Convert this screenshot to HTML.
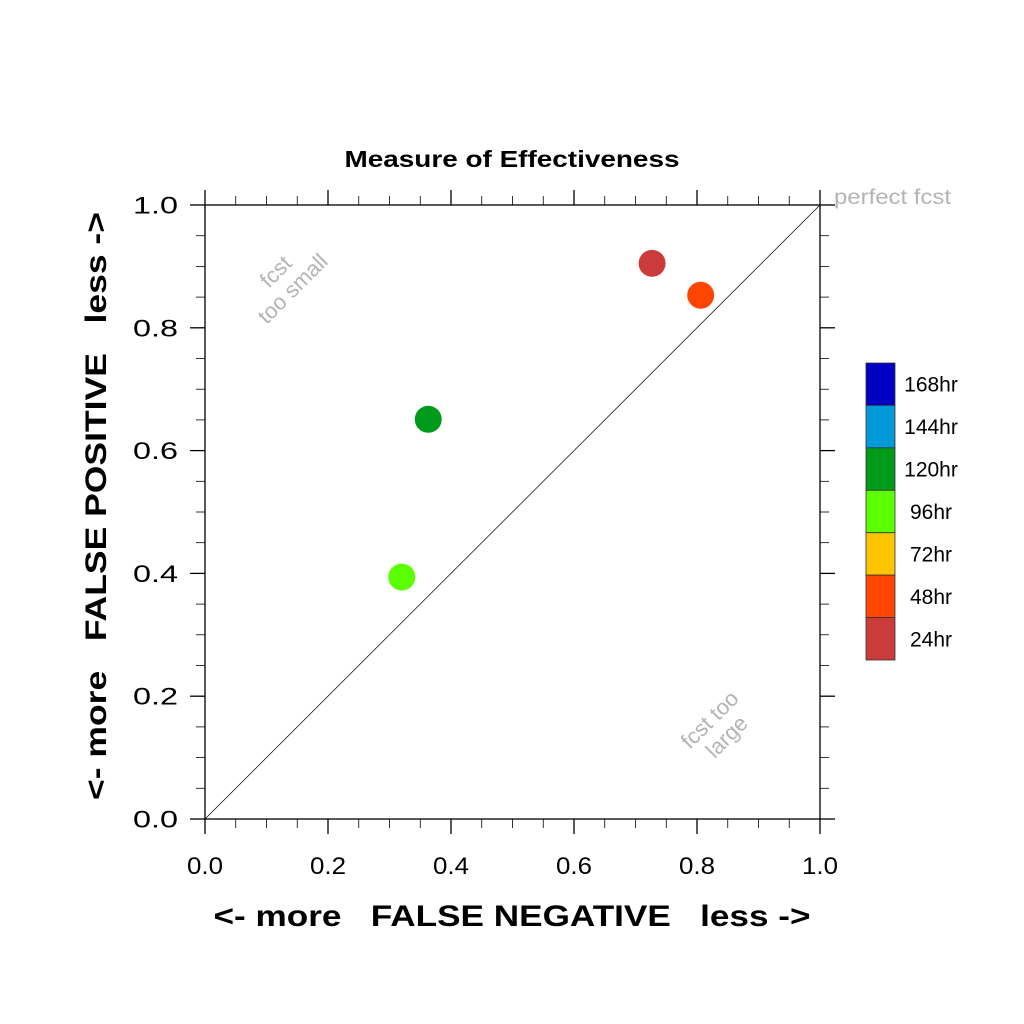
<!DOCTYPE html>
<html><head><meta charset="utf-8"><style>
body{margin:0;background:#fff}
svg{display:block;font-family:"Liberation Sans",Arial,sans-serif}
</style></head><body>
<svg width="1024" height="1024" viewBox="0 0 1024 1024">
<text x="512" y="167" text-anchor="middle" font-size="23" font-weight="bold" textLength="335" lengthAdjust="spacingAndGlyphs">Measure of Effectiveness</text>
<g id="axes"></g>
<g id="marks"></g>
<g id="legend"></g>
<text x="512" y="926" text-anchor="middle" font-size="30" font-weight="bold" textLength="597" lengthAdjust="spacingAndGlyphs" xml:space="preserve">&lt;- more   FALSE NEGATIVE   less -&gt;</text>
<text transform="translate(106,506) rotate(-90)" text-anchor="middle" font-size="30" font-weight="bold" textLength="588" lengthAdjust="spacingAndGlyphs" xml:space="preserve">&lt;- more   FALSE POSITIVE   less -&gt;</text>
<text x="834" y="204" font-size="21" fill="#b4b4b4" textLength="117" lengthAdjust="spacingAndGlyphs">perfect fcst</text>
<text transform="translate(288,284) rotate(-45)" text-anchor="middle" font-size="22" fill="#b4b4b4"><tspan x="0" y="-10">fcst</tspan><tspan x="0" y="14">too small</tspan></text>
<text transform="translate(722,732) rotate(-45)" text-anchor="middle" font-size="22" fill="#b4b4b4"><tspan x="0" y="-10">fcst too</tspan><tspan x="0" y="14">large</tspan></text>
</svg>
<script>
const labels=["24hr","48hr","120hr","96hr"];
const fnValues=[0.727,0.806,0.363,0.320];
const fpValues=[0.905,0.853,0.651,0.394];
const pointColors=["#cc3b3b","#ff4500","#009a1a","#5aff00"];
const legendLabels=["168hr","144hr","120hr","96hr","72hr","48hr","24hr"];
const legendColors=["#0000c4","#009ad9","#009a1a","#5aff00","#ffc400","#ff4500","#cc3b3b"];
const tickLabels=["0.0","0.2","0.4","0.6","0.8","1.0"];
const X0=205,X1=820,Y0=819,Y1=205;
const sx=v=>X0+(X1-X0)*v, sy=v=>Y0-(Y0-Y1)*v;
const NS="http://www.w3.org/2000/svg";
function mk(t,a,p){const e=document.createElementNS(NS,t);for(const k in a)e.setAttribute(k,a[k]);p.appendChild(e);return e;}
const ax=document.getElementById('axes');
const frame=mk('rect',{x:X0,y:Y1,width:X1-X0,height:Y0-Y1,fill:'none',stroke:'#000','stroke-width':1.3},ax);


const diag=mk('line',{x1:sx(0),y1:sy(0),x2:sx(1),y2:sy(1),stroke:'#000','stroke-width':0.7},ax);


for(let i=0;i<=20;i++){
 const v=i/20, maj=i%4===0, L=maj?15:9, sw=maj?1.3:0.8;
 const x=sx(v), y=sy(v);
 mk('line',{x1:x,y1:Y0,x2:x,y2:Y0+L,stroke:'#000','stroke-width':sw},ax);
 mk('line',{x1:x,y1:Y1,x2:x,y2:Y1-L,stroke:'#000','stroke-width':sw},ax);
 mk('line',{x1:X0,y1:y,x2:X0-L,y2:y,stroke:'#000','stroke-width':sw},ax);
 mk('line',{x1:X1,y1:y,x2:X1+L,y2:y,stroke:'#000','stroke-width':sw},ax);
}
tickLabels.forEach((t,i)=>{
 const v=i/5;
 const a=mk('text',{x:sx(v),y:874,'text-anchor':'middle','font-size':24,textLength:36,lengthAdjust:'spacingAndGlyphs'},ax);a.textContent=t;
 
 
 const b=mk('text',{x:178,y:sy(v)+8.5,'text-anchor':'end','font-size':24,textLength:45,lengthAdjust:'spacingAndGlyphs'},ax);b.textContent=t;
 
 
});
const mg=document.getElementById('marks');
fnValues.forEach((v,i)=>{
 const c=mk('circle',{cx:sx(v),cy:sy(fpValues[i]),r:13.5,fill:pointColors[i]},mg);
 
 
});
const lg=document.getElementById('legend');
const bh=(660-363)/legendColors.length;
legendColors.forEach((col,i)=>{
 const r=mk('rect',{x:866,y:363+i*bh,width:29,height:bh,fill:col,stroke:'#333','stroke-width':0.8},lg);
 
 
 const t=mk('text',{x:931,y:363+i*bh+bh/2+7.5,'text-anchor':'middle','font-size':21},lg);t.textContent=legendLabels[i];
 
 
});
</script>
</body></html>
